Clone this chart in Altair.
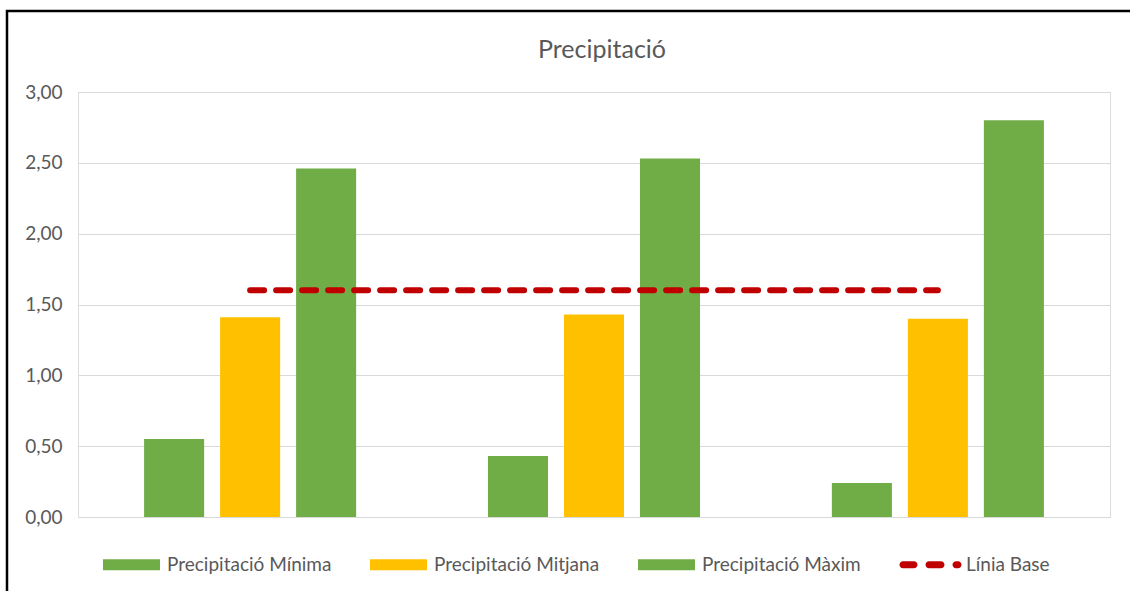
import altair as alt
import pandas as pd

# ---- data ----
title_text = "Precipitació"
groups = ["1", "2", "3"]
series = ["Precipitació Mínima", "Precipitació Mitjana", "Precipitació Màxim"]
minima = [0.55, 0.43, 0.24]
mitjana = [1.41, 1.43, 1.40]
maxim = [2.46, 2.53, 2.80]
base_label = "Línia Base"
base = [1.60, 1.60, 1.60]
y_ticks = [0, 0.5, 1.0, 1.5, 2.0, 2.5, 3.0]

GREEN = "#70AD47"
YELLOW = "#FFC000"
RED = "#C00000"
TEXT = "#595959"
FONT = "Lato"

rows = []
for name, vals in zip(series, [minima, mitjana, maxim]):
    for g, v in zip(groups, vals):
        rows.append({"group": g, "series": name, "value": v})
bars_df = pd.DataFrame(rows)
line_df = pd.DataFrame({"group": groups, "series": [base_label] * 3, "value": base})


# legend symbol shapes (unit square -1..1, scaled by sqrt(symbolSize)/2)
def capsule(a, b, r):
    return (f"M{a + r:.3f},{-r:.3f}L{b - r:.3f},{-r:.3f}"
            f"A{r:.3f},{r:.3f} 0 0 1 {b - r:.3f},{r:.3f}"
            f"L{a + r:.3f},{r:.3f}"
            f"A{r:.3f},{r:.3f} 0 0 1 {a + r:.3f},{-r:.3f}Z")


rect_path = "M-1,-0.193L1,-0.193L1,0.193L-1,0.193Z"
base_path = (capsule(-1.088, -0.456, 0.123) + capsule(-0.175, 0.491, 0.123)
             + capsule(0.772, 1.088, 0.123))
is_base = f"datum.value === '{base_label}'"

color = alt.Color(
    "series:N",
    scale=alt.Scale(domain=series + [base_label], range=[GREEN, YELLOW, GREEN, RED]),
    legend=alt.Legend(
        title=None,
        orient="none",
        direction="horizontal",
        legendX=25,
        legendY=444,
        symbolType=alt.ExprRef(f"{is_base} ? '{base_path}' : '{rect_path}'"),
        symbolSize=3249,
        symbolStrokeWidth=0,
        symbolFillColor=alt.ExprRef("scale('color', datum.value)"),
        symbolOpacity=1,
        labelFont=FONT,
        labelFontSize=19,
        labelColor=TEXT,
        labelOffset=7,
        columnPadding=38,
        labelLimit=400,
    ),
)

x_enc = alt.X(
    "group:N",
    sort=groups,
    scale=alt.Scale(paddingInner=0.337, paddingOuter=0.169),
    axis=None,
)
y_enc = alt.Y(
    "value:Q",
    scale=alt.Scale(domain=[0, 3], nice=False),
    axis=alt.Axis(
        values=y_ticks,
        labelExpr="replace(format(datum.value, '.2f'), '.', ',')",
        title=None,
        domain=False,
        ticks=False,
        grid=True,
        gridColor="#d9d9d9",
        gridWidth=1.2,
        labelFont=FONT,
        labelFontSize=19,
        labelColor=TEXT,
        labelPadding=16,
    ),
)

bars = alt.Chart(bars_df).mark_bar().encode(
    x=x_enc,
    xOffset=alt.XOffset(
        "series:N",
        sort=series,
        scale=alt.Scale(domain=series, paddingInner=0.21, paddingOuter=0.105),
    ),
    y=y_enc,
    color=color,
)

line = alt.Chart(line_df).mark_line(
    strokeDash=[14, 12], strokeCap="round", strokeWidth=6
).encode(
    x=alt.X("group:N", sort=groups),
    y=alt.Y("value:Q"),
    color=color,
)

title = alt.Chart(pd.DataFrame({"t": [title_text]})).mark_text(
    font=FONT, fontSize=25, color=TEXT, align="center", baseline="alphabetic"
).encode(
    text="t:N", x=alt.value(524), y=alt.value(-34)
)

border = alt.Chart(pd.DataFrame({"a": [0]})).mark_rect(
    fillOpacity=0, stroke="black", strokeWidth=2.5
).encode(
    x=alt.value(-71), x2=alt.value(1200), y=alt.value(-81), y2=alt.value(700)
)

chart = alt.layer(bars, line, title, border).properties(
    width=1032,
    height=425,
    autosize=alt.AutoSizeParams(type="none"),
    padding={"left": 78, "top": 92, "right": 20, "bottom": 74},
).configure_view(stroke=None).configure(background="white")

chart.save("out.html", embed_options={"renderer": "svg", "actions": False})
